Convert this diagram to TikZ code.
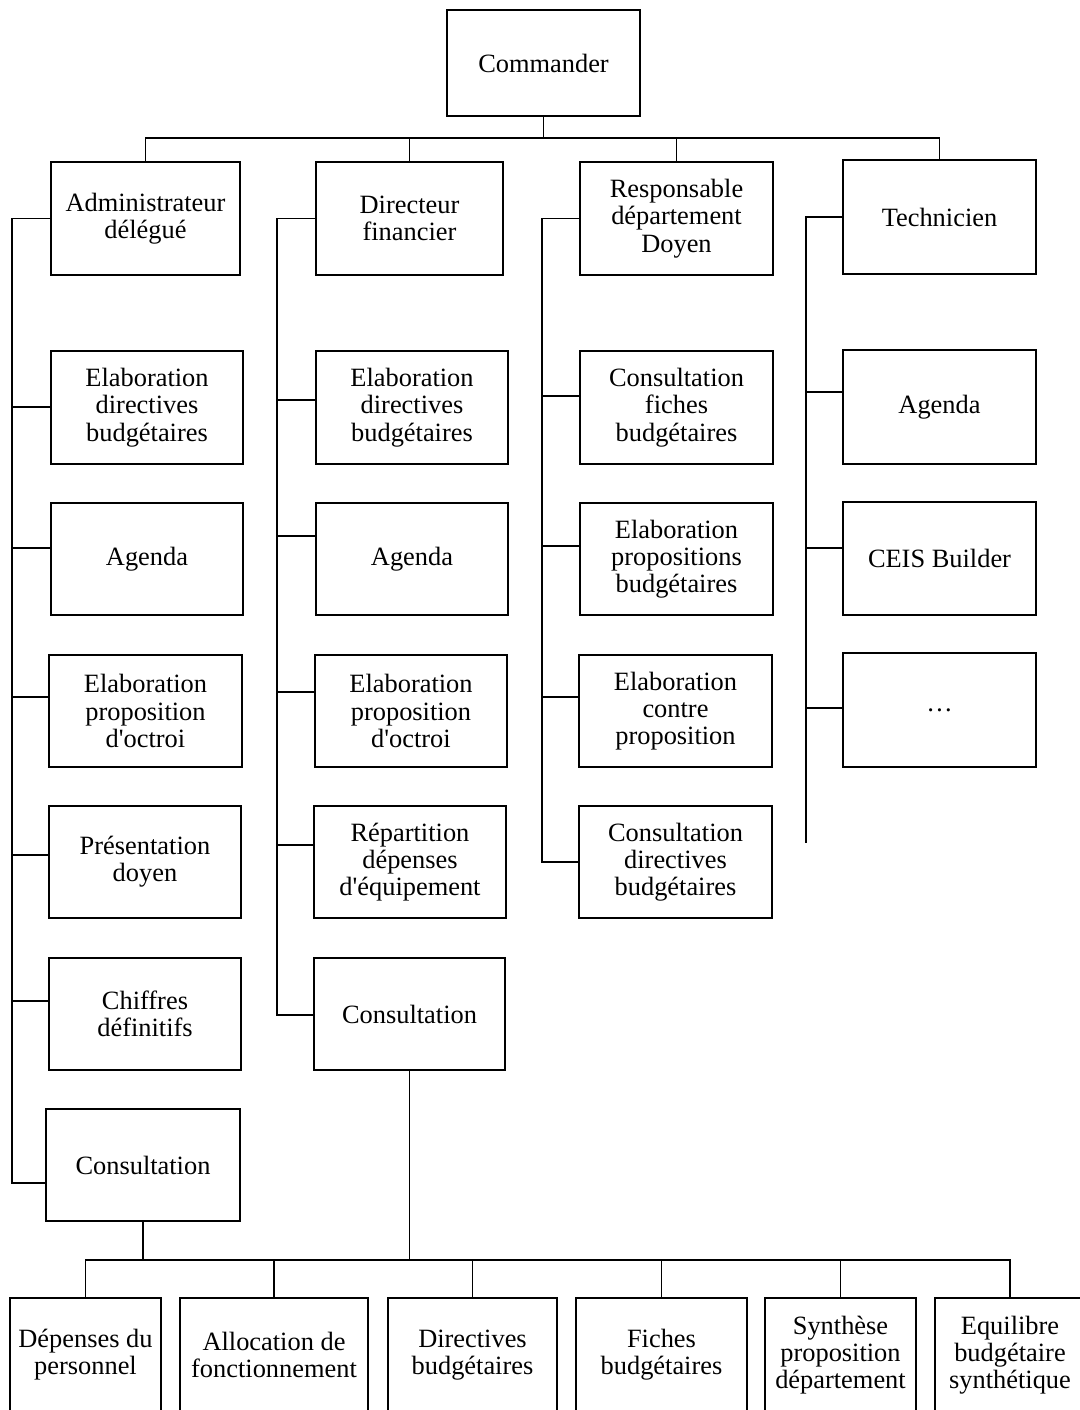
\documentclass[tikz,border=0pt]{standalone}
\usepackage{fontspec}
\setmainfont{Liberation Serif}
\begin{document}
\begin{tikzpicture}[x=0.5pt,y=-0.5pt,
  box/.style={draw,line width=0.75pt,align=center,inner sep=0pt,
    font=\fontsize{13.2}{13.6}\selectfont},
  ln/.style={line width=0.75pt}]
\useasboundingbox (0,0) rectangle (1080,1410);
\clip (0,0) rectangle (1080,1410);
\fill[white] (0,0) rectangle (1080,1410);

% top
\node[box,minimum width=96.5pt,minimum height=53pt] (cmd) at (543.5,63) {Commander};
\node[box,minimum width=94.5pt,minimum height=56.5pt] (adm) at (145.5,218.5) {Administrateur\\délégué};
\node[box,minimum width=93.5pt,minimum height=56.5pt] (dfin) at (409.5,218.5) {Directeur\\financier};
\node[box,minimum width=96.5pt,minimum height=56.5pt] (resp) at (676.5,218.5) {Responsable\\département\\Doyen};
\node[box,minimum width=96.5pt,minimum height=57pt] (tech) at (939.5,217) {Technicien};

% column 1
\node[box,minimum width=96pt,minimum height=56.5pt] (c1a) at (147,407.5) {Elaboration\\directives\\budgétaires};
\node[box,minimum width=96pt,minimum height=56pt] (c1b) at (147,559) {Agenda};
\node[box,minimum width=96.5pt,minimum height=56pt] (c1c) at (145.5,711) {Elaboration\\proposition\\d\textquotesingle octroi};
\node[box,minimum width=96pt,minimum height=56pt] (c1d) at (145,862) {Présentation\\doyen};
\node[box,minimum width=96pt,minimum height=56pt] (c1e) at (145,1014) {Chiffres\\définitifs};
\node[box,minimum width=97pt,minimum height=56pt] (c1f) at (143,1165) {Consultation};

% column 2
\node[box,minimum width=96pt,minimum height=56.5pt] (c2a) at (412,407.5) {Elaboration\\directives\\budgétaires};
\node[box,minimum width=96pt,minimum height=56pt] (c2b) at (412,559) {Agenda};
\node[box,minimum width=96pt,minimum height=56pt] (c2c) at (411,711) {Elaboration\\proposition\\d\textquotesingle octroi};
\node[box,minimum width=96pt,minimum height=56pt] (c2d) at (410,862) {Répartition\\dépenses\\d\textquotesingle équipement};
\node[box,minimum width=95.5pt,minimum height=56pt] (c2e) at (409.5,1014) {Consultation};

% column 3
\node[box,minimum width=96.5pt,minimum height=56.5pt] (c3a) at (676.5,407.5) {Consultation\\fiches\\budgétaires};
\node[box,minimum width=96.5pt,minimum height=56pt] (c3b) at (676.5,559) {Elaboration\\propositions\\budgétaires};
\node[box,minimum width=96.5pt,minimum height=56pt] (c3c) at (675.5,711) {Elaboration\\contre\\proposition};
\node[box,minimum width=96.5pt,minimum height=56pt] (c3d) at (675.5,862) {Consultation\\directives\\budgétaires};

% column 4
\node[box,minimum width=96.5pt,minimum height=57pt] (c4a) at (939.5,407) {Agenda};
\node[box,minimum width=96.5pt,minimum height=56.5pt] (c4b) at (939.5,558.5) {CEIS Builder};
\node[box,minimum width=96.5pt,minimum height=57pt] (c4c) at (939.5,710) {\dots};

% bottom row
\node[box,minimum width=75.5pt,minimum height=57pt] (d1) at (85.5,1355) {Dépenses du\\personnel};
\node[box,minimum width=94pt,minimum height=57pt] (d2) at (274,1355) {Allocation de\\fonctionnement};
\node[box,minimum width=84.5pt,minimum height=57pt] (d3) at (472.5,1355) {Directives\\budgétaires};
\node[box,minimum width=85.5pt,minimum height=57pt] (d4) at (661.5,1355) {Fiches\\budgétaires};
\node[box,minimum width=75.5pt,minimum height=57pt] (d5) at (840.5,1355) {Synthèse\\proposition\\département};
\node[box,minimum width=75pt,minimum height=57pt] (d6) at (1010,1355) {Equilibre\\budgétaire\\synthétique};

% top bus
\coordinate (tb) at (543.5,138);
\draw[ln] (cmd.south) -- (tb);
\draw[ln] (adm.north) |- (tb);
\draw[ln] (tech.north) |- (tb);
\draw[ln] (dfin.north) -- (dfin.north |- tb);
\draw[ln] (resp.north) -- (resp.north |- tb);

% column 1 trunk
\coordinate (t1) at (12,1183);
\draw[ln] (adm.west) -| (t1) -- (c1f.west |- t1);
\foreach \n/\y in {c1a/407,c1b/548,c1c/697,c1d/855,c1e/1001}{
  \coordinate (b-\n) at (12,\y);
  \draw[ln] (b-\n) -- (\n.west |- b-\n);
}

% column 2 trunk
\coordinate (t2) at (277,1015);
\draw[ln] (dfin.west) -| (t2) -- (c2e.west |- t2);
\foreach \n/\y in {c2a/400,c2b/536,c2c/692,c2d/845}{
  \coordinate (b-\n) at (277,\y);
  \draw[ln] (b-\n) -- (\n.west |- b-\n);
}

% column 3 trunk
\coordinate (t3) at (542,862);
\draw[ln] (resp.west) -| (t3) -- (c3d.west |- t3);
\foreach \n/\y in {c3a/396,c3b/546,c3c/697}{
  \coordinate (b-\n) at (542,\y);
  \draw[ln] (b-\n) -- (\n.west |- b-\n);
}

% column 4 trunk
\coordinate (t4) at (806,843);
\draw[ln] (tech.west) -| (t4);
\foreach \n/\y in {c4a/392,c4b/548,c4c/708}{
  \coordinate (b-\n) at (806,\y);
  \draw[ln] (b-\n) -- (\n.west |- b-\n);
}

% bottom bus
\coordinate (bb) at (500,1260);
\draw[ln] (c1f.south) -- (c1f.south |- bb);
\draw[ln] (c2e.south) -- (c2e.south |- bb);
\draw[ln] (d1.north) |- (d6.north |- bb) -- (d6.north);
\foreach \n in {d2,d3,d4,d5}{
  \draw[ln] (\n.north) -- (\n.north |- bb);
}
\end{tikzpicture}
\end{document}
